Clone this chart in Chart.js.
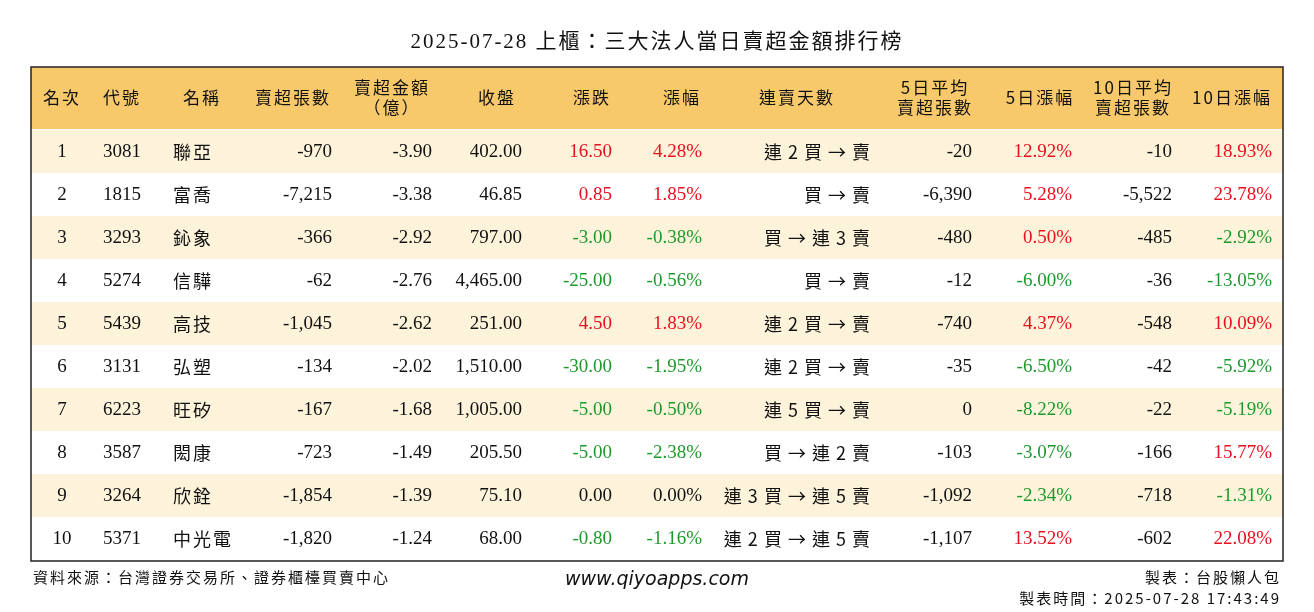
<!DOCTYPE html>
<html><head><meta charset="utf-8">
<script src="https://cdn.jsdelivr.net/npm/chart.js@4/dist/chart.umd.min.js"></script>
<style>html,body{margin:0;padding:0;background:#fff}#wrap{width:1314px;height:612px}</style>
</head><body><div id="wrap"><canvas id="myChart"></canvas></div>
<script>
const title = '2025-07-28 上櫃：三大法人當日賣超金額排行榜';
const headers = ['名次','代號','名稱','賣超張數','賣超金額\n（億）','收盤','漲跌','漲幅','連賣天數','5日平均\n賣超張數','5日漲幅','10日平均\n賣超張數','10日漲幅'];
const ranks = [1,2,3,4,5,6,7,8,9,10];
const codes = ['3081','1815','3293','5274','5439','3131','6223','3587','3264','5371'];
const names = ['聯亞','富喬','鈊象','信驊','高技','弘塑','旺矽','閎康','欣銓','中光電'];
const sellLots = [-970,-7215,-366,-62,-1045,-134,-167,-723,-1854,-1820];
const sellAmt = [-3.90,-3.38,-2.92,-2.76,-2.62,-2.02,-1.68,-1.49,-1.39,-1.24];
const closes = [402.00,46.85,797.00,4465.00,251.00,1510.00,1005.00,205.50,75.10,68.00];
const changes = [16.50,0.85,-3.00,-25.00,4.50,-30.00,-5.00,-5.00,0.00,-0.80];
const pcts = [4.28,1.85,-0.38,-0.56,1.83,-1.95,-0.50,-2.38,0.00,-1.16];
const streaks = ['連 2 買 → 賣','買 → 賣','買 → 連 3 賣','買 → 賣','連 2 買 → 賣','連 2 買 → 賣','連 5 買 → 賣','買 → 連 2 賣','連 3 買 → 連 5 賣','連 2 買 → 連 5 賣'];
const avg5 = [-20,-6390,-480,-12,-740,-35,0,-103,-1092,-1107];
const pct5 = [12.92,5.28,0.50,-6.00,4.37,-6.50,-8.22,-3.07,-2.34,13.52];
const avg10 = [-10,-5522,-485,-36,-548,-42,-22,-166,-718,-602];
const pct10 = [18.93,23.78,-2.92,-13.05,10.09,-5.92,-5.19,15.77,-1.31,22.08];

const RED = '#e8101e', GREEN = '#1d9a2c', BLACK = '#111';
const fmtInt = v => v.toLocaleString('en-US');
const fmt2 = v => v.toLocaleString('en-US',{minimumFractionDigits:2,maximumFractionDigits:2});
const col = v => v > 0 ? RED : v < 0 ? GREEN : BLACK;

// column layout: header centre, alignment, anchor x
const cols = [
  {h:62, a:'center', x:62}, {h:122, a:'left', x:103}, {h:202, a:'left', x:173},
  {h:293, a:'right', x:332}, {h:392, a:'right', x:432}, {h:497, a:'right', x:522},
  {h:592, a:'right', x:612}, {h:682, a:'right', x:702}, {h:797, a:'right', x:870},
  {h:935, a:'right', x:972}, {h:1040, a:'right', x:1072}, {h:1133, a:'right', x:1172},
  {h:1232, a:'right', x:1272}
];
const SERIF = '"Liberation Serif","Noto Sans CJK TC",serif';
const CJK = '"Noto Sans CJK TC",sans-serif';

const tablePlugin = {
  id: 'table',
  afterDraw(chart) {
    const c = chart.ctx, xs = chart.scales.x, ys = chart.scales.y;
    const X = v => xs.getPixelForValue(v), Y = v => ys.getPixelForValue(v);
    c.save();
    c.textBaseline = 'middle';
    c.fillStyle = '#111'; c.textAlign = 'center';
    c.font = '21px ' + SERIF; c.letterSpacing = '2px';
    c.fillText(title, X(657), Y(42));
    c.fillStyle = '#f8c96b';
    c.fillRect(X(31), Y(67), X(1283)-X(31), Y(129)-Y(67));
    const rowTop = i => 130 + i*43;
    ranks.forEach((r,i) => {
      if (i % 2 === 0) { c.fillStyle = '#fdf3da'; c.fillRect(X(31), Y(rowTop(i)), X(1283)-X(31), Y(rowTop(i)+43)-Y(rowTop(i))); }
    });
    c.strokeStyle = '#222'; c.lineWidth = 1.5;
    c.strokeRect(X(31), Y(67), X(1283)-X(31), Y(561)-Y(67));
    c.fillStyle = '#111'; c.font = '17px ' + CJK; c.letterSpacing = '2px';
    headers.forEach((h,j) => {
      const lines = h.split('\n');
      lines.forEach((t,k) => {
        const yy = lines.length === 1 ? 98 : 88 + k*20;
        c.fillText(t, X(cols[j].h), Y(yy));
      });
    });
    ranks.forEach((r,i) => {
      const y = Y(rowTop(i) + 22);
      const cells = [
        [String(r), BLACK, SERIF], [codes[i], BLACK, SERIF], [names[i], BLACK, CJK],
        [fmtInt(sellLots[i]), BLACK, SERIF], [fmt2(sellAmt[i]), BLACK, SERIF],
        [fmt2(closes[i]), BLACK, SERIF], [fmt2(changes[i]), col(changes[i]), SERIF],
        [fmt2(pcts[i])+'%', col(pcts[i]), SERIF], [streaks[i], BLACK, CJK],
        [fmtInt(avg5[i]), BLACK, SERIF], [fmt2(pct5[i])+'%', col(pct5[i]), SERIF],
        [fmtInt(avg10[i]), BLACK, SERIF], [fmt2(pct10[i])+'%', col(pct10[i]), SERIF]
      ];
      cells.forEach(([t,color,font],j) => {
        c.fillStyle = color; c.textAlign = cols[j].a;
        c.letterSpacing = font === CJK ? (j === 8 ? '1px' : '2px') : '0px';
        c.font = (font === CJK ? '18px ' : '19px ') + font;
        let x = X(cols[j].x);
        if (font === CJK && cols[j].a === 'right') x += 1;
        c.fillText(t, x, y);
      });
    });
    c.fillStyle = '#111'; c.font = '15px ' + CJK; c.textAlign = 'left'; c.letterSpacing = '2px';
    c.fillText('資料來源：台灣證券交易所、證券櫃檯買賣中心', X(33), Y(577));
    c.textAlign = 'right';
    c.fillText('製表：台股懶人包', X(1281), Y(577));
    c.fillText('製表時間：2025-07-28 17:43:49', X(1281), Y(598));
    c.textAlign = 'center'; c.letterSpacing = '0px'; c.font = 'italic 19px "DejaVu Sans",sans-serif';
    c.fillText('www.qiyoapps.com', X(657), Y(580));
    c.restore();
  }
};

new Chart(document.getElementById('myChart').getContext('2d'), {
  type: 'scatter',
  data: { datasets: [{ data: [] }] },
  options: {
    responsive: true, maintainAspectRatio: false, animation: false,
    layout: { padding: 0 },
    plugins: { legend: { display: false }, tooltip: { enabled: false } },
    scales: {
      x: { type: 'linear', min: 0, max: 1314, display: false },
      y: { type: 'linear', min: 0, max: 612, reverse: true, display: false }
    }
  },
  plugins: [tablePlugin]
});
</script></body></html>
